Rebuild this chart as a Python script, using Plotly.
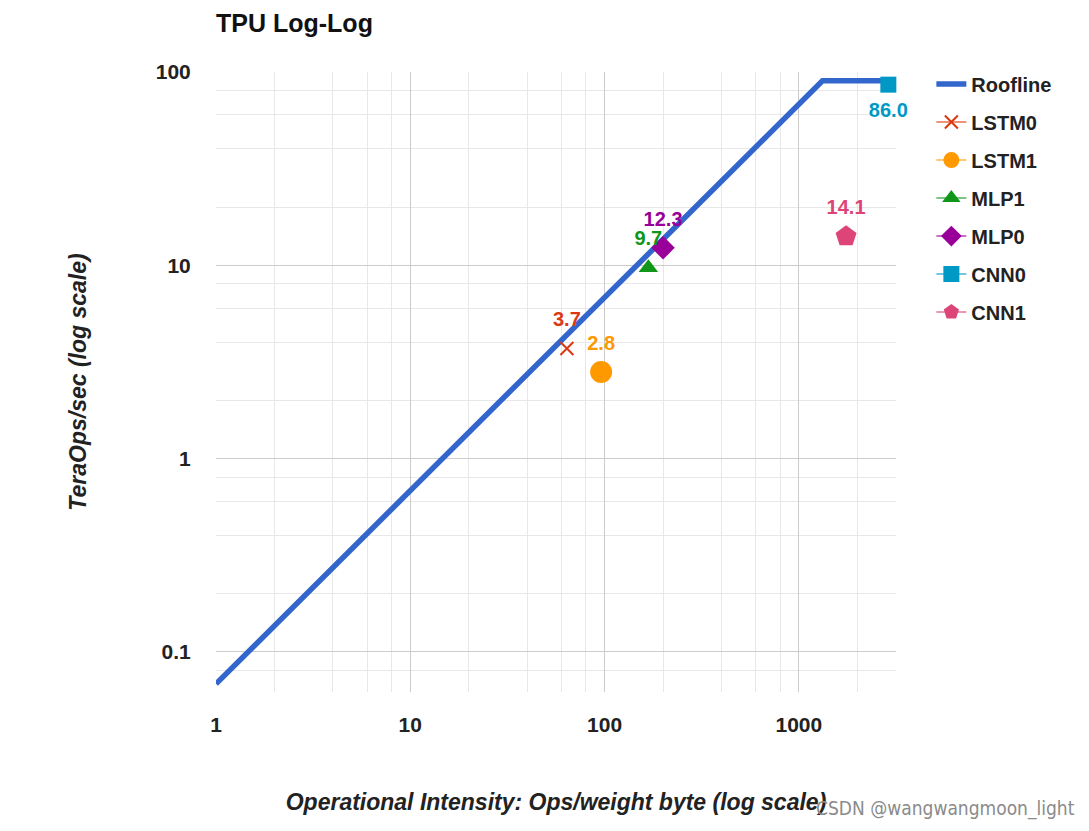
import plotly.graph_objects as go

# Roofline
roof_x = [1, 1323, 3050]
roof_y = [0.068, 90, 90]

# Benchmarks
names = ["LSTM0", "LSTM1", "MLP1", "MLP0", "CNN0", "CNN1"]
ops_x = [64, 96, 168, 200, 2888, 1750]
tops_y = [3.7, 2.8, 9.7, 12.3, 86.0, 14.1]
labels = ["3.7", "2.8", "9.7", "12.3", "86.0", "14.1"]
colors = ["#DC3912", "#FF9900", "#109618", "#990099", "#0099C6", "#DD4477"]
line_colors = ["rgba(220,57,18,0.55)", "rgba(255,153,0,0.55)", "rgba(16,150,24,0.55)",
               "rgba(153,0,153,0.55)", "rgba(0,153,198,0.55)", "rgba(221,68,119,0.55)"]
symbols = ["x-thin", "circle", "triangle-up", "diamond", "square", "pentagon"]
sizes = [13, 22, 17, 18, 16, 22]
label_pos = ["top center", "top center", "top center", "top center", "bottom center", "top center"]

x_ticks = [1, 10, 100, 1000]
x_ticktext = ["1", "10", "100", "1000"]
y_ticks = [0.1, 1, 10, 100]
y_ticktext = ["0.1", "1", "10", "100"]
x_minor = [2, 4, 6, 8, 20, 40, 60, 80, 200, 400, 600, 800, 2000]
y_minor = [0.08, 0.2, 0.4, 0.6, 0.8, 2, 4, 6, 8, 20, 40, 60, 80]

FONT = "Liberation Sans, Arial, sans-serif"

fig = go.Figure()
fig.add_trace(go.Scatter(x=roof_x, y=roof_y, mode="lines", name="Roofline",
                         line=dict(color="#3366CC", width=5.5), legendgroup="g0"))
for i, n in enumerate(names):
    lw = 2 if symbols[i] == "x-thin" else 0
    fig.add_trace(go.Scatter(
        x=[ops_x[i]], y=[tops_y[i]], mode="lines+markers", name=n,
        legendgroup=f"g{i+1}",
        line=dict(color=line_colors[i], width=2),
        marker=dict(symbol=symbols[i], size=sizes[i], color=colors[i],
                    line=dict(color=colors[i], width=lw)),
        cliponaxis=False))

# value labels
fig.add_trace(go.Scatter(
    x=ops_x, y=tops_y, mode="markers+text", text=labels, textposition=label_pos,
    textfont=dict(family=FONT, size=20, color=colors, weight="bold"),
    marker=dict(size=26, color="rgba(0,0,0,0)"), showlegend=False, hoverinfo="skip",
    cliponaxis=False))

fig.update_layout(
    width=1089, height=831,
    margin=dict(l=216, r=193, t=72, b=139),
    paper_bgcolor="white", plot_bgcolor="white",
    font=dict(family=FONT, color="#222222"),
    title=dict(text="<b>TPU Log-Log</b>", x=216/1089, xanchor="left", xref="container",
               y=1 - 23/831, yanchor="middle", yref="container",
               font=dict(size=25, color="#111111", family=FONT)),
    legend=dict(x=1.052, y=1.012, xanchor="left", yanchor="top",
                font=dict(size=20, family=FONT, color="#222222", weight="bold"),
                tracegroupgap=9, bgcolor="rgba(0,0,0,0)"),
    xaxis=dict(type="log", range=[0, 3.5], tickvals=x_ticks, ticktext=x_ticktext,
               showgrid=True, gridcolor="#cccccc", gridwidth=1, zeroline=False,
               showline=False, ticks="outside", ticklen=14, tickcolor="rgba(0,0,0,0)",
               tickfont=dict(size=21, family=FONT, color="#222222", weight="bold"),
               minor=dict(tickmode="array", tickvals=x_minor, showgrid=True,
                          gridcolor="#e8e8e8", ticks=""),
               title=dict(text="<b><i>Operational Intensity: Ops/weight byte (log scale)</i></b>",
                          font=dict(size=23, family=FONT, color="#222222"), standoff=58)),
    yaxis=dict(type="log", range=[-1.21, 2], tickvals=y_ticks, ticktext=y_ticktext,
               showgrid=True, gridcolor="#cccccc", gridwidth=1, zeroline=False,
               showline=False, ticks="outside", ticklen=20, tickcolor="rgba(0,0,0,0)",
               tickfont=dict(size=21, family=FONT, color="#222222", weight="bold"),
               minor=dict(tickmode="array", tickvals=y_minor, showgrid=True,
                          gridcolor="#e8e8e8", ticks=""),
               title=dict(text="<b><i>TeraOps/sec (log scale)</i></b>",
                          font=dict(size=23, family=FONT, color="#222222"), standoff=62)),
)

fig.add_annotation(text="CSDN @wangwangmoon_light", xref="paper", yref="paper",
                   x=1 + (1077 - 896)/680, y=-(808 - 692)/620, xanchor="right", yanchor="middle",
                   showarrow=False, font=dict(size=19, family="DejaVu Sans Condensed, DejaVu Sans", color="#8a8a8a"))

fig.write_html("out.html")
